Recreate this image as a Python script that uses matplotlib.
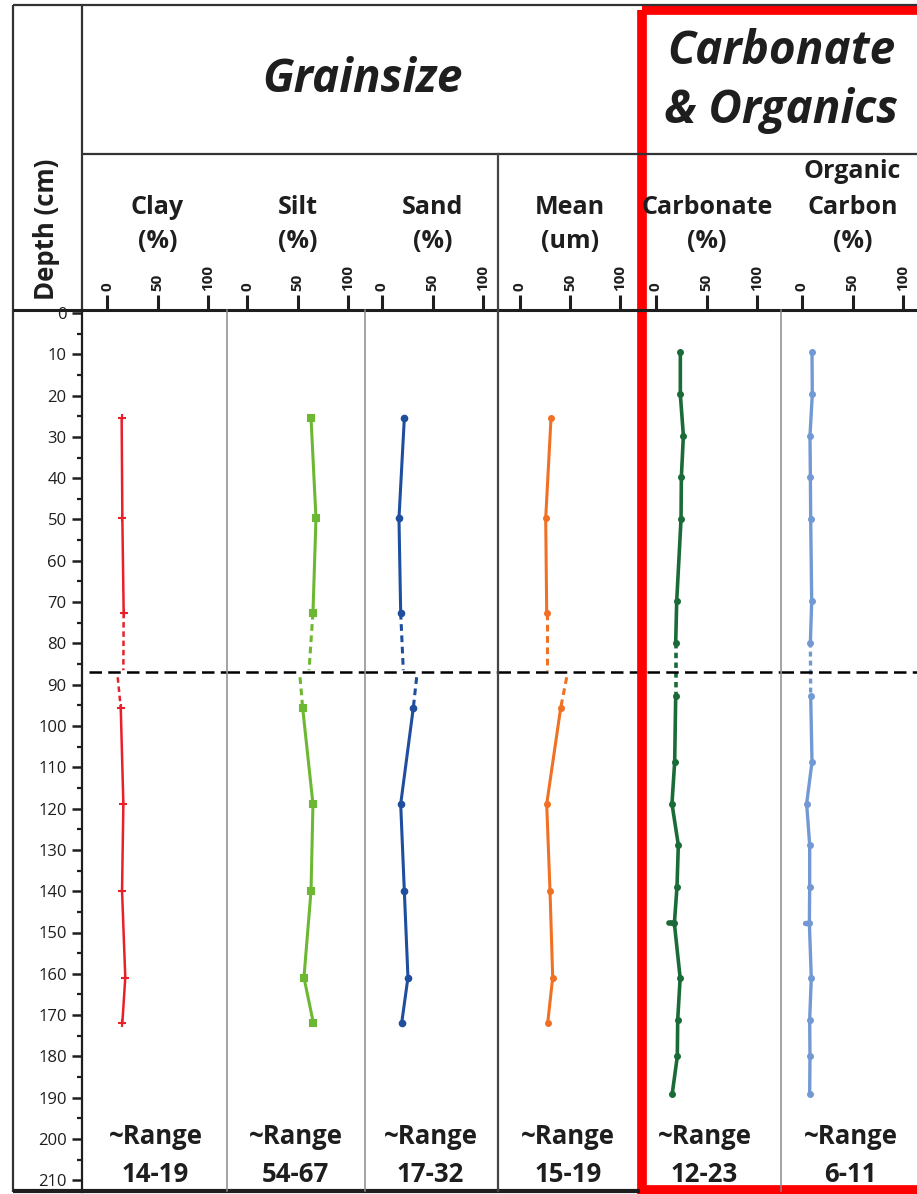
import numpy as np
import matplotlib
matplotlib.use("Agg")
import matplotlib.pyplot as plt
from matplotlib.patches import Rectangle

plt.rcParams['font.family'] = ['Open Sans', 'DejaVu Sans']

# ---- data ----
depth_gs = [25.5, 49.7, 72.6, 95.6, 118.9, 139.9, 160.9, 171.9]
clay = [14.5, 15.2, 16.5, 13.6, 16.2, 14.9, 18.1, 15.2]
silt = [63.4, 68.3, 65.3, 55.1, 65.3, 63.4, 56.4, 65.7]
sand = [22.1, 16.8, 18.5, 31.0, 18.5, 22.1, 25.7, 19.5]
mean = [31.0, 25.7, 26.7, 40.7, 26.7, 30.0, 32.7, 27.7]
# values where the dashed connectors meet the break (above, below)
clay_break = [16.2, 10.6]
silt_break = [61.4, 52.5]
sand_break = [21.1, 34.3]
mean_break = [26.7, 46.7]

depth_co = [9.5, 19.7, 29.7, 39.8, 49.8, 69.8, 79.8, 92.7, 108.7, 118.8,
            128.8, 138.9, 147.8, 161.0, 171.1, 180.0, 189.0]
carbonate = [24.1, 24.1, 27.1, 25.1, 24.8, 20.5, 19.5, 19.5, 18.5, 15.8,
             22.1, 20.8, 18.2, 23.9, 21.5, 21.1, 16.1]
organic = [9.9, 10.2, 7.9, 8.3, 8.6, 9.6, 8.3, 8.6, 9.9, 4.6,
           7.6, 7.6, 7.3, 9.2, 7.6, 7.9, 7.6]
dup_depth = 147.8
carbonate_dup = 12.6
organic_dup = 3.3

break_depth = 86.9
break_gap = [86.5, 88.2]

ranges = ['14-19', '54-67', '17-32', '15-19', '12-23', '6-11']
headers = [['Clay', '(%)'], ['Silt', '(%)'], ['Sand', '(%)'], ['Mean', '(um)'],
           ['Carbonate', '(%)'], ['Organic', 'Carbon', '(%)']]

# ---- layout in pixels ----
W, H = 917, 1194
# left, right, pixel of 0, pixel of 100
cols = [(82, 227, 107, 208), (227, 365, 247, 348), (365, 498, 382, 483),
        (498, 640, 520, 620), (647, 781, 656, 757), (781, 917, 802, 903)]
y_top, y_bot = 310, 1192
d0_px, px_per_cm = 313, 4.13
ink = '#1e1e1e'


def rect(x0, y0, x1, y1):
    return [x0 / W, 1 - y1 / H, (x1 - x0) / W, (y1 - y0) / H]


fig = plt.figure(figsize=(W / 100, H / 100), dpi=100)

axes = []
for (xl, xr, x0, x100) in cols:
    ax = fig.add_axes(rect(xl, y_top, xr, y_bot))
    ppu = (x100 - x0) / 100.0
    ax.set_xlim((xl - x0) / ppu, (xr - x0) / ppu)
    ax.set_ylim((y_bot - d0_px) / px_per_cm, (y_top - d0_px) / px_per_cm)
    ax.patch.set_alpha(0)
    for s in ax.spines.values():
        s.set_visible(False)
    ax.xaxis.tick_top()
    ax.set_xticks([0, 50, 100])
    ax.set_xticklabels(['0', '50', '100'], rotation=90, fontweight='bold',
                       fontsize=11, color=ink)
    ax.tick_params(axis='x', direction='out', length=11, width=2.2, pad=3,
                   color=ink)
    ax.set_yticks([])
    axes.append(ax)

# depth axis on the clay column
ax = axes[0]
ax.spines['left'].set_visible(True)
ax.spines['left'].set_linewidth(1.6)
ax.spines['left'].set_color(ink)
ax.set_yticks(np.arange(0, 211, 10))
ax.set_yticks(np.arange(5, 211, 10), minor=True)
ax.set_yticklabels([str(v) for v in range(0, 211, 10)], fontsize=12, color=ink)
ax.tick_params(axis='y', which='major', direction='out', length=7, width=1.8, color=ink, pad=4)
ax.tick_params(axis='y', which='minor', direction='out', length=3.5, width=1.6, color=ink)

# grain size profiles
gs = [(clay, clay_break, '#E8202A', '+', 6, 1.8),
      (silt, silt_break, '#6DB832', 's', 4.5, 2.2),
      (sand, sand_break, '#1F4E9E', 'o', 4, 2.2),
      (mean, mean_break, '#F07024', 'o', 3.5, 2.2)]
for ax, (vals, brk, c, m, ms, lw) in zip(axes[:4], gs):
    ax.plot(vals[:3], depth_gs[:3], color=c, lw=lw, marker=m, ms=ms, mew=1.5)
    ax.plot(vals[3:], depth_gs[3:], color=c, lw=lw, marker=m, ms=ms, mew=1.5)
    ax.plot([vals[2], brk[0]], [depth_gs[2], break_gap[0]], color=c, lw=lw,
            ls=(0, (2.2, 1.5)))
    ax.plot([brk[1], vals[3]], [break_gap[1], depth_gs[3]], color=c, lw=lw,
            ls=(0, (2.2, 1.5)))

# carbonate and organic carbon
co = [(axes[4], carbonate, carbonate_dup, '#1B6B38', 2.6),
      (axes[5], organic, organic_dup, '#7399D4', 2.4)]
for ax, vals, dup, c, lw in co:
    ax.plot(vals[:7], depth_co[:7], color=c, lw=lw, marker='o', ms=4)
    ax.plot(vals[7:], depth_co[7:], color=c, lw=lw, marker='o', ms=4)
    ax.plot(vals[6:8], depth_co[6:8], color=c, lw=lw, ls=(0, (1.5, 1.2)))
    ax.plot([dup, vals[12]], [dup_depth, dup_depth], color=c, lw=lw + 1.5,
            solid_capstyle='round')

# break line
for i, ax in enumerate(axes):
    xmin = 7 / (cols[0][1] - cols[0][0]) if i == 0 else 0
    ax.axhline(break_depth, xmin=xmin, color='black', lw=1.8,
               ls=(0, (5, 2.5)), zorder=5)

# ---- frame, header and text on an overlay ----
ov = fig.add_axes([0, 0, 1, 1])
ov.set_xlim(0, W)
ov.set_ylim(H, 0)
ov.axis('off')
ov.patch.set_alpha(0)
ov.set_zorder(10)

frame = dict(color='#333333', lw=1.6, solid_capstyle='butt')
ov.plot([13, W], [4.5, 4.5], **frame)
ov.plot([13, 13], [4.5, 1192], **frame)
ov.plot([82, 82], [4.5, 310], **frame)
ov.plot([82, W], [154, 154], **frame)
ov.plot([13, W], [310, 310], color=ink, lw=2.2, solid_capstyle='butt')
ov.plot([13, 640], [1191, 1191], color=ink, lw=3, solid_capstyle='butt')
ov.plot([498, 498], [154, 1191], color='#444444', lw=1.6)
for xd in (227, 365, 781):
    ov.plot([xd, xd], [310, 1191], color='#8a8a8a', lw=1.1)

ov.add_patch(Rectangle((642, 10), 300, 1180, fill=False, ec='#FF0000', lw=7))

title = dict(fontsize=33, fontweight='bold', style='italic', ha='center',
             va='center', color=ink)
ov.text(362, 80, 'Grainsize', **title)
ov.text(781, 51, 'Carbonate', **title)
ov.text(781, 110, '& Organics', **title)
ov.text(47, 229, 'Depth (cm)', fontsize=18.5, fontweight='bold', rotation=90,
        ha='center', va='center', color=ink)

for (xl, xr, x0, x100), lines, rng in zip(cols, headers, ranges):
    xc = (x0 + x100) / 2
    n = len(lines)
    for k, line in enumerate(lines):
        yc = 242 - (n - 1 - k) * 35
        ov.text(xc + (1 if line == 'Carbonate' else 0), yc, line,
                fontsize=18, fontweight='bold', ha='center', va='center',
                color=ink)
    ov.text(xc - 2, 1137, '~Range', fontsize=18.5, fontweight='bold',
            ha='center', va='center', color=ink)
    ov.text(xc - 2, 1174, rng, fontsize=18.5, fontweight='bold', ha='center',
            va='center', color=ink)

fig.savefig('out.png', dpi=100)
